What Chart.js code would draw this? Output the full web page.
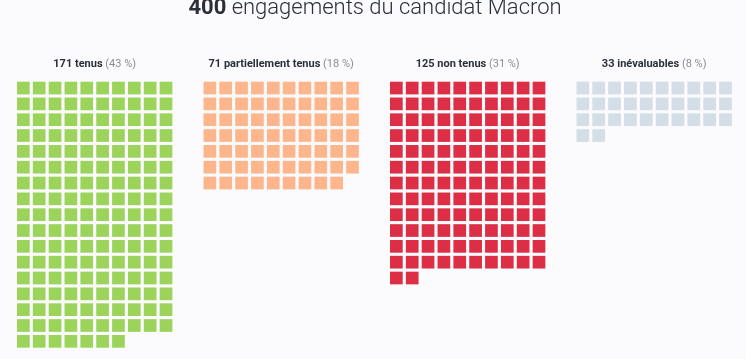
<!DOCTYPE html>
<html>
<head>
<meta charset="utf-8">
<script src="https://cdn.jsdelivr.net/npm/chart.js@4.4.1/dist/chart.umd.min.js"></script>
<style>
  html, body { margin: 0; padding: 0; background: #fbfbfd; }
  #wrap { width: 746px; height: 359px; position: relative; }
</style>
</head>
<body>
<div id="wrap"><canvas id="c"></canvas></div>
<script>
// ---- data ----
const titleCount = 400;
const titleText = 'engagements du candidat Macron';
const categories = ['tenus', 'partiellement tenus', 'non tenus', 'inévaluables'];
const counts = [171, 71, 125, 33];
const percents = [43, 18, 31, 8];
const squaresShown = [167, 69, 122, 32];   // squares visible in the picture
const colors = ['#9bd35b', '#fdb68b', '#dc2e45', '#d4dee7'];
const perRow = 10;

// ---- layout (cell units) ----
const pitch = 15.85;
const groupStride = 186.5 / pitch;
const xMin = -23.35 / pitch;
const xMax = xMin + 746 / pitch;
const yMin = -88.05 / 15.83;
const yMax = yMin + 359 / 15.83;

const datasets = categories.map((cat, i) => {
  const pts = [];
  for (let k = 0; k < squaresShown[i]; k++) {
    pts.push({ x: i * groupStride + (k % perRow), y: Math.floor(k / perRow) });
  }
  return {
    label: cat,
    data: pts,
    pointStyle: 'rect',
    pointRadius: 8.98,
    pointHoverRadius: 8.98,
    borderWidth: 0,
    backgroundColor: colors[i],
    borderColor: colors[i],
    clip: false
  };
});

const labelsPlugin = {
  id: 'waffleLabels',
  afterDraw(chart) {
    const ctx = chart.ctx;
    const xs = chart.scales.x, ys = chart.scales.y;
    ctx.save();
    ctx.textBaseline = 'alphabetic';
    // main title
    const boldPart = String(titleCount);
    const restPart = ' ' + titleText;
    ctx.font = 'bold 22px Roboto';
    const w1 = ctx.measureText(boldPart).width;
    ctx.font = '300 22px Roboto';
    const w2 = ctx.measureText(restPart).width;
    let x0 = 375 - (w1 + w2) / 2;
    const ty = 14;
    ctx.fillStyle = '#2b2f3a';
    ctx.font = 'bold 22px Roboto';
    ctx.fillText(boldPart, x0, ty);
    ctx.font = '300 22px Roboto';
    ctx.fillText(restPart, x0 + w1, ty);
    // group labels
    categories.forEach((cat, i) => {
      const cx = xs.getPixelForValue(i * groupStride + 4.5);
      const cy = ys.getPixelForValue(-1.33);
      const a = counts[i] + ' ' + cat;
      const b = ' (' + percents[i] + ' %)';
      ctx.font = 'bold 11px Roboto';
      const wa = ctx.measureText(a).width;
      ctx.font = '11px Roboto';
      const wb = ctx.measureText(b).width;
      const sx = cx - (wa + wb) / 2;
      ctx.fillStyle = '#2b2f3a';
      ctx.font = 'bold 11px Roboto';
      ctx.fillText(a, sx, cy);
      ctx.fillStyle = '#8a8d94';
      ctx.font = '11px Roboto';
      ctx.fillText(b, sx + wa, cy);
    });
    ctx.restore();
  }
};

new Chart(document.getElementById('c'), {
  type: 'scatter',
  data: { datasets },
  options: {
    responsive: true,
    maintainAspectRatio: false,
    animation: false,
    layout: { padding: 0, autoPadding: false },
    plugins: { legend: { display: false }, tooltip: { enabled: false }, title: { display: false } },
    scales: {
      x: { type: 'linear', display: false, min: xMin, max: xMax },
      y: { type: 'linear', display: false, reverse: true, min: yMin, max: yMax }
    }
  },
  plugins: [labelsPlugin]
});
</script>
</body>
</html>
